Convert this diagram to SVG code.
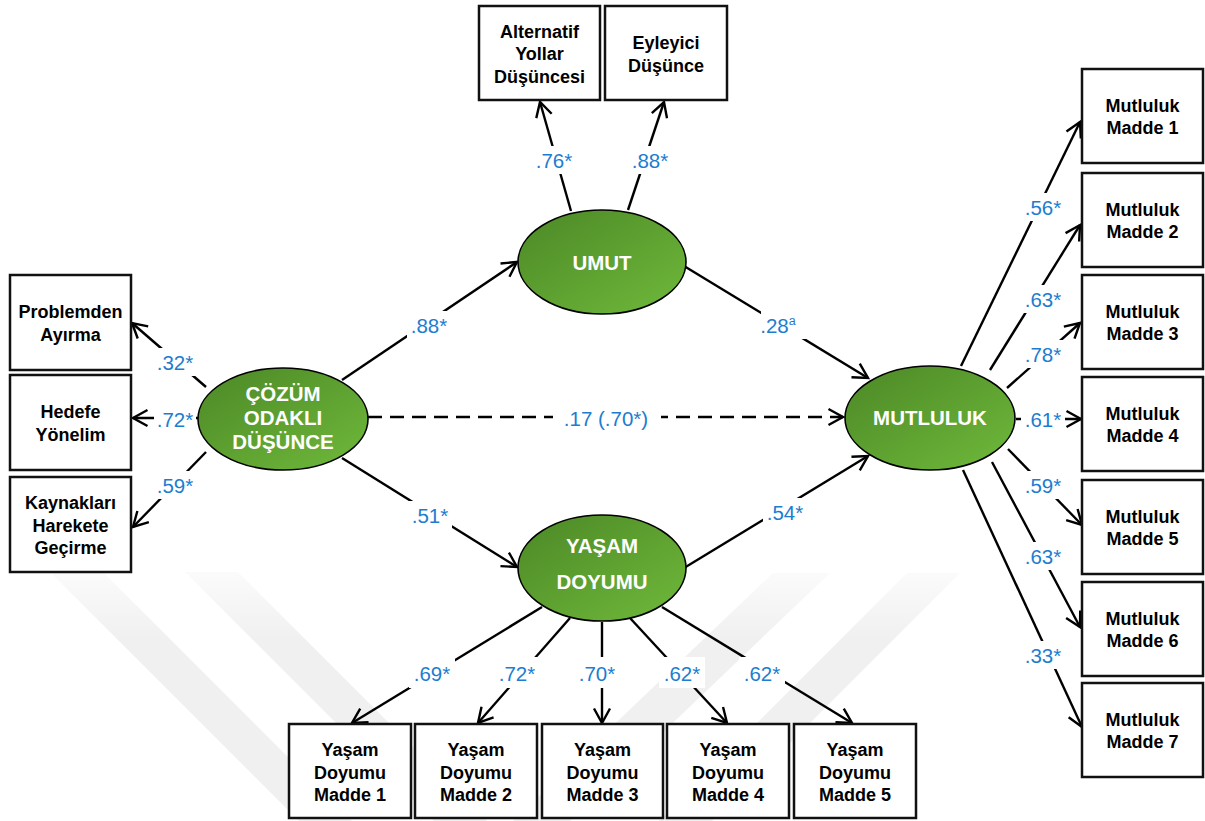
<svg xmlns="http://www.w3.org/2000/svg" width="1205" height="821" viewBox="0 0 1205 821">
<style>
.box{fill:#fff;stroke:#111;stroke-width:2.5}
.bt{font-family:"Liberation Sans",Arial,sans-serif;font-weight:bold;font-size:18px;fill:#000;text-anchor:middle}
.lv{fill:url(#g);stroke:#000;stroke-width:1.6}
.lt{font-family:"Liberation Sans",Arial,sans-serif;font-weight:bold;font-size:20.5px;fill:#fff;text-anchor:middle}
.ln{stroke:#000;stroke-width:2.4;fill:none;marker-end:url(#ah)}
.dash{stroke-dasharray:14 8}
.lb{font-family:"Liberation Sans",Arial,sans-serif;font-size:20.5px;fill:#1c7dd0;text-anchor:middle}
.lbg{fill:#fff}
.wm{fill:url(#wg)}
</style>
<defs>
<linearGradient id="g" x1="0" y1="0" x2="1" y2="1">
<stop offset="0" stop-color="#4c8826"/>
<stop offset="1" stop-color="#6fb93b"/>
</linearGradient>
<linearGradient id="wg" gradientUnits="userSpaceOnUse" x1="0" y1="572" x2="0" y2="640">
<stop offset="0" stop-color="#fbfbfb"/>
<stop offset="1" stop-color="#f0f0f0"/>
</linearGradient>
<marker id="ah" markerUnits="userSpaceOnUse" markerWidth="20" markerHeight="20" viewBox="0 0 20 20" refX="17" refY="10" orient="auto" overflow="visible">
<path d="M2.5,2 L17,10 L2.5,18" fill="none" stroke="#000" stroke-width="2.4" stroke-linejoin="miter"/>
</marker>
</defs>
<rect width="1205" height="821" fill="#fff"/>
<g id="watermark">
<polygon class="wm" points="50,572 103,572 352,821 299,821"/>
<polygon class="wm" points="185,572 238,572 487,821 434,821"/>
<polygon class="wm" points="773,573 830,573 570,821 513,821"/>
<polygon class="wm" points="907,573 960,573 712,821 659,821"/>
</g>
<g id="connectors">
<line class="ln" x1="571" y1="211" x2="540" y2="102"/>
<line class="ln" x1="628" y1="210" x2="664" y2="102"/>
<line class="ln" x1="206" y1="387" x2="132" y2="323"/>
<line class="ln" x1="198" y1="418" x2="133" y2="418"/>
<line class="ln" x1="206" y1="452" x2="133" y2="527"/>
<line class="ln" x1="342" y1="380" x2="517" y2="262"/>
<line class="ln" x1="342" y1="458" x2="517" y2="567"/>
<line class="ln" x1="684" y1="266" x2="868" y2="378"/>
<line class="ln" x1="684" y1="568" x2="868" y2="456"/>
<line class="ln dash" x1="368" y1="417" x2="843" y2="417"/>
<line class="ln" x1="961" y1="366" x2="1080" y2="122"/>
<line class="ln" x1="990" y1="370" x2="1080" y2="225"/>
<line class="ln" x1="1007" y1="388" x2="1080" y2="323"/>
<line class="ln" x1="1016" y1="419" x2="1081" y2="419"/>
<line class="ln" x1="1008" y1="449" x2="1082" y2="525"/>
<line class="ln" x1="992" y1="462" x2="1080" y2="627"/>
<line class="ln" x1="963" y1="470" x2="1082" y2="727"/>
<line class="ln" x1="542" y1="607" x2="352" y2="723"/>
<line class="ln" x1="570" y1="618" x2="478" y2="723"/>
<line class="ln" x1="602" y1="622" x2="602" y2="723"/>
<line class="ln" x1="630" y1="618" x2="727" y2="723"/>
<line class="ln" x1="662" y1="607" x2="852" y2="723"/>
</g>
<g id="labels">
<rect class="lbg" x="533" y="146" width="42" height="28"/>
<text class="lb" x="554" y="168">.76*</text>
<rect class="lbg" x="629" y="146" width="42" height="28"/>
<text class="lb" x="650" y="168">.88*</text>
<rect class="lbg" x="154" y="348" width="42" height="28"/>
<text class="lb" x="175" y="370">.32*</text>
<rect class="lbg" x="154" y="405" width="42" height="28"/>
<text class="lb" x="175" y="427">.72*</text>
<rect class="lbg" x="154" y="471" width="42" height="28"/>
<text class="lb" x="175" y="493">.59*</text>
<rect class="lbg" x="407" y="311" width="44" height="28"/>
<text class="lb" x="429" y="333">.88*</text>
<rect class="lbg" x="761" y="311" width="46" height="28"/>
<text class="lb" x="778" y="333">.28<tspan font-size="12.5" dy="-8">a</tspan></text>
<rect class="lbg" x="553" y="403" width="108" height="30"/>
<text class="lb" x="606" y="426">.17 (.70*)</text>
<rect class="lbg" x="408" y="501" width="44" height="28"/>
<text class="lb" x="430" y="523">.51*</text>
<rect class="lbg" x="763" y="498" width="44" height="28"/>
<text class="lb" x="785" y="520">.54*</text>
<rect class="lbg" x="1021" y="193" width="44" height="28"/>
<text class="lb" x="1043" y="215">.56*</text>
<rect class="lbg" x="1021" y="285" width="44" height="28"/>
<text class="lb" x="1043" y="307">.63*</text>
<rect class="lbg" x="1021" y="340" width="44" height="28"/>
<text class="lb" x="1043" y="362">.78*</text>
<rect class="lbg" x="1021" y="405" width="44" height="28"/>
<text class="lb" x="1043" y="427">.61*</text>
<rect class="lbg" x="1021" y="471" width="44" height="28"/>
<text class="lb" x="1043" y="493">.59*</text>
<rect class="lbg" x="1021" y="542" width="44" height="28"/>
<text class="lb" x="1043" y="564">.63*</text>
<rect class="lbg" x="1021" y="641" width="44" height="28"/>
<text class="lb" x="1043" y="663">.33*</text>
<rect class="lbg" x="409" y="657" width="46" height="31"/>
<text class="lb" x="432" y="681">.69*</text>
<rect class="lbg" x="494" y="657" width="46" height="31"/>
<text class="lb" x="517" y="681">.72*</text>
<rect class="lbg" x="574" y="657" width="46" height="31"/>
<text class="lb" x="597" y="681">.70*</text>
<rect class="lbg" x="659" y="657" width="46" height="31"/>
<text class="lb" x="682" y="681">.62*</text>
<rect class="lbg" x="739" y="657" width="46" height="31"/>
<text class="lb" x="762" y="681">.62*</text>
</g>
<g id="cozum">
<ellipse class="lv" cx="283" cy="419" rx="85" ry="51"/>
<text class="lt" x="283" y="401">ÇÖZÜM</text>
<text class="lt" x="283" y="425">ODAKLI</text>
<text class="lt" x="283" y="449">DÜŞÜNCE</text>
</g>
<g id="umut">
<ellipse class="lv" cx="602" cy="262" rx="84" ry="52"/>
<text class="lt" x="602" y="270">UMUT</text>
</g>
<g id="yasam">
<ellipse class="lv" cx="602" cy="568" rx="84" ry="53"/>
<text class="lt" x="602" y="553">YAŞAM</text>
<text class="lt" x="602" y="589">DOYUMU</text>
</g>
<g id="mutluluk">
<ellipse class="lv" cx="930" cy="418" rx="85" ry="52"/>
<text class="lt" x="930" y="425">MUTLULUK</text>
</g>
<g id="alternatif">
<rect class="box" x="479" y="6" width="121" height="94"/>
<text class="bt" x="539.5" y="37.5">Alternatif</text>
<text class="bt" x="539.5" y="60">Yollar</text>
<text class="bt" x="539.5" y="82.5">Düşüncesi</text>
</g>
<g id="eyleyici">
<rect class="box" x="605" y="6" width="122" height="94"/>
<text class="bt" x="666" y="49">Eyleyici</text>
<text class="bt" x="666" y="71.5">Düşünce</text>
</g>
<g id="problemden">
<rect class="box" x="10" y="275" width="121" height="95"/>
<text class="bt" x="70.5" y="318">Problemden</text>
<text class="bt" x="70.5" y="340.5">Ayırma</text>
</g>
<g id="hedefe">
<rect class="box" x="10" y="375" width="121" height="95"/>
<text class="bt" x="70.5" y="418">Hedefe</text>
<text class="bt" x="70.5" y="440.5">Yönelim</text>
</g>
<g id="kaynaklari">
<rect class="box" x="10" y="477" width="121" height="95"/>
<text class="bt" x="70.5" y="509">Kaynakları</text>
<text class="bt" x="70.5" y="531.5">Harekete</text>
<text class="bt" x="70.5" y="554">Geçirme</text>
</g>
<g id="m1">
<rect class="box" x="1082" y="69" width="121" height="94"/>
<text class="bt" x="1142.5" y="111.75">Mutluluk</text>
<text class="bt" x="1142.5" y="134.25">Madde 1</text>
</g>
<g id="m2">
<rect class="box" x="1082" y="173" width="121" height="94"/>
<text class="bt" x="1142.5" y="215.75">Mutluluk</text>
<text class="bt" x="1142.5" y="238.25">Madde 2</text>
</g>
<g id="m3">
<rect class="box" x="1082" y="275" width="121" height="94"/>
<text class="bt" x="1142.5" y="317.75">Mutluluk</text>
<text class="bt" x="1142.5" y="340.25">Madde 3</text>
</g>
<g id="m4">
<rect class="box" x="1082" y="377" width="121" height="94"/>
<text class="bt" x="1142.5" y="419.75">Mutluluk</text>
<text class="bt" x="1142.5" y="442.25">Madde 4</text>
</g>
<g id="m5">
<rect class="box" x="1082" y="480" width="121" height="94"/>
<text class="bt" x="1142.5" y="522.75">Mutluluk</text>
<text class="bt" x="1142.5" y="545.25">Madde 5</text>
</g>
<g id="m6">
<rect class="box" x="1082" y="582" width="121" height="94"/>
<text class="bt" x="1142.5" y="624.75">Mutluluk</text>
<text class="bt" x="1142.5" y="647.25">Madde 6</text>
</g>
<g id="m7">
<rect class="box" x="1082" y="683" width="121" height="94"/>
<text class="bt" x="1142.5" y="725.75">Mutluluk</text>
<text class="bt" x="1142.5" y="748.25">Madde 7</text>
</g>
<g id="yd1">
<rect class="box" x="289" y="724" width="122" height="94"/>
<text class="bt" x="350" y="756">Yaşam</text>
<text class="bt" x="350" y="778.5">Doyumu</text>
<text class="bt" x="350" y="801">Madde 1</text>
</g>
<g id="yd2">
<rect class="box" x="415" y="724" width="122" height="94"/>
<text class="bt" x="476" y="756">Yaşam</text>
<text class="bt" x="476" y="778.5">Doyumu</text>
<text class="bt" x="476" y="801">Madde 2</text>
</g>
<g id="yd3">
<rect class="box" x="542" y="724" width="121" height="94"/>
<text class="bt" x="602.5" y="756">Yaşam</text>
<text class="bt" x="602.5" y="778.5">Doyumu</text>
<text class="bt" x="602.5" y="801">Madde 3</text>
</g>
<g id="yd4">
<rect class="box" x="667" y="724" width="122" height="94"/>
<text class="bt" x="728" y="756">Yaşam</text>
<text class="bt" x="728" y="778.5">Doyumu</text>
<text class="bt" x="728" y="801">Madde 4</text>
</g>
<g id="yd5">
<rect class="box" x="794" y="724" width="122" height="94"/>
<text class="bt" x="855" y="756">Yaşam</text>
<text class="bt" x="855" y="778.5">Doyumu</text>
<text class="bt" x="855" y="801">Madde 5</text>
</g>
</svg>
